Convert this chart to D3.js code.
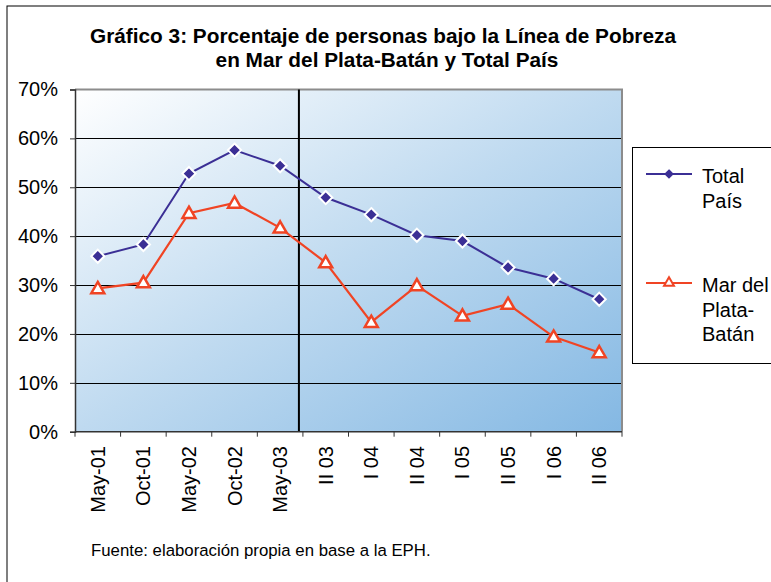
<!DOCTYPE html>
<html>
<head>
<meta charset="utf-8">
<script src="https://cdn.jsdelivr.net/npm/d3@7"></script>
<style>
  body { margin: 0; background: #fff; }
  text { font-family: "Liberation Sans", Arial, sans-serif; fill: #000; }
</style>
</head>
<body>
<svg id="chart" width="771" height="582"></svg>
<script>
const periods = ['May-01', 'Oct-01', 'May-02', 'Oct-02', 'May-03',
    'II 03', 'I 04', 'II 04', 'I 05', 'II 05', 'I 06', 'II 06'];
const totalPais = [35.9, 38.3, 52.8, 57.6, 54.4, 47.9, 44.4, 40.2, 39.0, 33.6, 31.3, 27.1];
const marDelPlata = [29.3, 30.5, 44.7, 46.8, 41.7, 34.6, 22.4, 29.9, 23.7, 26.1, 19.4, 16.2];
const yTicks = [0, 10, 20, 30, 40, 50, 60, 70];

const svg = d3.select('#chart'),
    margin = {top: 89.5, left: 75, right: 622, bottom: 431.7},
    x = d3.scaleBand().domain(periods).range([margin.left, margin.right]).padding(0),
    y = d3.scaleLinear().domain([0, 70]).range([margin.bottom, margin.top]);

// outer frame
svg.append('rect')
    .attr('x', 7).attr('y', 6).attr('width', 800).attr('height', 600)
    .attr('fill', 'none').attr('stroke', '#000').attr('stroke-width', 1);

const grad = svg.append('defs').append('linearGradient')
    .attr('id', 'bg').attr('x1', 0).attr('y1', 0).attr('x2', 1).attr('y2', 1);
grad.append('stop').attr('offset', '0%').attr('stop-color', '#ffffff');
grad.append('stop').attr('offset', '50%').attr('stop-color', '#bfdaf0');
grad.append('stop').attr('offset', '100%').attr('stop-color', '#84b8e3');

svg.append('rect')
    .attr('x', margin.left).attr('y', margin.top)
    .attr('width', margin.right - margin.left).attr('height', margin.bottom - margin.top)
    .attr('fill', 'url(#bg)');

// title
const title = svg.append('text')
    .attr('text-anchor', 'middle')
    .attr('font-size', 20.8).attr('font-weight', 'bold');
title.append('tspan').attr('x', 383).attr('y', 42.5)
    .text('Gráfico 3: Porcentaje de personas bajo la Línea de Pobreza');
title.append('tspan').attr('x', 387).attr('y', 66.5)
    .text('en Mar del Plata-Batán y Total País');

// gridlines
svg.append('g')
    .selectAll('line')
    .data(yTicks.filter((d) => d > 0 && d < 70))
    .join('line')
        .attr('x1', margin.left).attr('x2', margin.right)
        .attr('y1', (d) => Math.round(y(d)) + 0.5).attr('y2', (d) => Math.round(y(d)) + 0.5)
        .attr('stroke', '#000').attr('stroke-width', 1);

// plot border top + right
svg.append('path')
    .attr('d', `M${margin.left},${margin.top}H${margin.right}V${margin.bottom}`)
    .attr('fill', 'none').attr('stroke', '#8c8c8c').attr('stroke-width', 2);

// separator between the two survey modes
const sepX = x('II 03') - 4;
svg.append('line')
    .attr('x1', sepX).attr('x2', sepX)
    .attr('y1', margin.top).attr('y2', margin.bottom)
    .attr('stroke', '#000').attr('stroke-width', 2);

// y axis
const yAxis = svg.append('g')
    .attr('transform', `translate(${margin.left},0)`)
    .call(d3.axisLeft(y).tickValues(yTicks).tickSize(5).tickPadding(12).tickFormat((d) => d + '%'));
yAxis.select('.domain').attr('stroke', '#333').attr('stroke-width', 1.5);
yAxis.selectAll('.tick line').attr('stroke', '#333');
yAxis.selectAll('text').attr('font-size', 20).attr('font-family', '"Liberation Sans", Arial, sans-serif');

// x axis: ticks on category boundaries, labels rotated
const bounds = periods.map((p) => x(p)).concat([margin.right]);
svg.append('line')
    .attr('x1', margin.left).attr('x2', margin.right)
    .attr('y1', margin.bottom).attr('y2', margin.bottom)
    .attr('stroke', '#333').attr('stroke-width', 1.5);
svg.append('g')
    .selectAll('line')
    .data(bounds)
    .join('line')
        .attr('x1', (d) => d).attr('x2', (d) => d)
        .attr('y1', margin.bottom).attr('y2', margin.bottom + 5)
        .attr('stroke', '#333');
svg.append('g')
    .selectAll('text')
    .data(periods)
    .join('text')
        .attr('transform', (d) => `translate(${x(d) + x.bandwidth() / 2 + 7},446) rotate(-90)`)
        .attr('text-anchor', 'end')
        .attr('font-size', 20)
        .text((d) => d);

const cx = (i) => x(periods[i]) + x.bandwidth() / 2;
const line = d3.line().x((d, i) => cx(i)).y((d) => y(d));

const blue = '#3b2f95', red = '#f04424';

svg.append('path')
    .datum(totalPais)
    .attr('fill', 'none').attr('stroke', blue).attr('stroke-width', 2)
    .attr('d', line);
svg.append('path')
    .datum(marDelPlata)
    .attr('fill', 'none').attr('stroke', red).attr('stroke-width', 2.2)
    .attr('d', line);

const diamond = d3.symbol().type(d3.symbolDiamond2).size(110);
const triangle = d3.symbol().type(d3.symbolTriangle2).size(120);

svg.append('g')
    .selectAll('path')
    .data(totalPais)
    .join('path')
        .attr('transform', (d, i) => `translate(${cx(i)},${y(d)})`)
        .attr('d', diamond)
        .attr('fill', blue).attr('stroke', '#fff').attr('stroke-width', 2);
svg.append('g')
    .selectAll('path')
    .data(marDelPlata)
    .join('path')
        .attr('transform', (d, i) => `translate(${cx(i)},${y(d) + 1})`)
        .attr('d', triangle)
        .attr('fill', '#fff').attr('stroke', red).attr('stroke-width', 2.5);

// legend
const legend = svg.append('g');
legend.append('rect')
    .attr('x', 632.5).attr('y', 147.5).attr('width', 200).attr('height', 216)
    .attr('fill', '#fff').attr('stroke', '#000').attr('stroke-width', 1);

const legendItems = [
    {lines: ['Total', 'País'], color: blue, sym: d3.symbol().type(d3.symbolDiamond2).size(30), fill: blue, y: 174},
    {lines: ['Mar del', 'Plata-', 'Batán'], color: red, sym: d3.symbol().type(d3.symbolTriangle2).size(70), fill: '#fff', y: 283}
];
legendItems.forEach((item) => {
    legend.append('line')
        .attr('x1', 646).attr('x2', 692).attr('y1', item.y).attr('y2', item.y)
        .attr('stroke', item.color).attr('stroke-width', 2);
    legend.append('path')
        .attr('transform', `translate(669,${item.y})`)
        .attr('d', item.sym)
        .attr('fill', item.fill).attr('stroke', item.color).attr('stroke-width', 2);
    const t = legend.append('text').attr('font-size', 20);
    item.lines.forEach((l, k) => {
        t.append('tspan').attr('x', 702).attr('y', item.y + 9 + k * 24.5).text(l);
    });
});

// source note
svg.append('text')
    .attr('x', 91).attr('y', 556)
    .attr('font-size', 16.8)
    .text('Fuente: elaboración propia en base a la EPH.');
</script>
</body>
</html>
